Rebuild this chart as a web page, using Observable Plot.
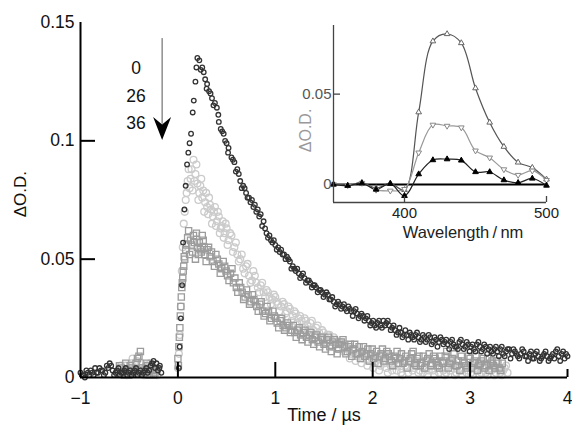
<!DOCTYPE html>
<html><head><meta charset="utf-8">
<script src="https://cdn.jsdelivr.net/npm/d3@7"></script>
<script src="https://cdn.jsdelivr.net/npm/@observablehq/plot@0.6"></script>
<style>
body{margin:0;background:#fff}
#wrap{position:relative;width:572px;height:425px}
#wrap svg{position:absolute;left:0;top:0}
</style>
</head><body><div id="wrap"></div>
<script>
// ---------- main chart data (time in µs, ΔO.D.) ----------
const trace0 = [[-1.00,0.002],[-0.97,0.001],[-0.94,0.003],[-0.91,0.001],[-0.88,0.002],[-0.85,0.004],[-0.82,0.002],[-0.79,0.003],[-0.76,0.001],[-0.73,0.005],[-0.70,0.006],[-0.67,0.003],[-0.64,0.002],[-0.61,0.004],[-0.58,0.002],[-0.55,0.003],[-0.52,0.001],[-0.49,0.003],[-0.46,0.002],[-0.43,0.004],[-0.40,0.002],[-0.37,0.001],[-0.34,0.003],[-0.31,0.002],[-0.28,0.005],[-0.25,0.007],[-0.22,0.006],[-0.19,0.004],[-0.17,0.002],
[0.01,0.004],[0.018,0.013],[0.03,0.025],[0.043,0.039],[0.053,0.057],[0.067,0.071],[0.08,0.081],[0.094,0.090],[0.107,0.095],[0.12,0.099],[0.135,0.103],[0.152,0.112],[0.163,0.117],[0.18,0.125],[0.19,0.131],[0.20,0.135],
[0.22,0.134],[0.25,0.131],[0.28,0.126],[0.30,0.124],[0.32,0.121],[0.35,0.118],[0.38,0.116],[0.40,0.114],[0.42,0.108],[0.44,0.105],[0.47,0.103],[0.50,0.099],[0.52,0.097],[0.55,0.093],[0.58,0.091],[0.61,0.088],[0.64,0.083],[0.67,0.081],[0.70,0.078],[0.73,0.076],[0.76,0.075],[0.79,0.073],[0.82,0.071],[0.85,0.069],[0.88,0.066],[0.91,0.061],[0.94,0.060],[0.97,0.057],[1.00,0.056],[1.03,0.055],[1.06,0.054],[1.09,0.052],[1.12,0.051],[1.15,0.049],[1.18,0.047],[1.21,0.045],[1.24,0.044],[1.27,0.043],[1.30,0.042],[1.33,0.041],[1.36,0.040],[1.39,0.039],[1.42,0.038],[1.45,0.037],[1.48,0.036],[1.51,0.035],[1.54,0.035],[1.57,0.033],[1.60,0.032],[1.63,0.031],[1.66,0.031],[1.69,0.030],[1.72,0.029],[1.75,0.030],[1.78,0.028],[1.81,0.028],[1.84,0.027],[1.87,0.026],[1.90,0.026],[1.93,0.025],[1.96,0.024],[1.99,0.023],[2.02,0.022],[2.05,0.023],[2.08,0.022],[2.11,0.024],[2.14,0.023],[2.17,0.022],[2.20,0.021],[2.23,0.020],[2.26,0.019],[2.29,0.019],[2.32,0.018],[2.35,0.018],[2.38,0.019],[2.41,0.017],[2.44,0.018],[2.47,0.017],[2.50,0.016],[2.53,0.017],[2.56,0.016],[2.59,0.017],[2.62,0.015],[2.65,0.016],[2.68,0.015],[2.71,0.016],[2.74,0.015],[2.77,0.014],[2.80,0.015],[2.83,0.014],[2.86,0.013],[2.89,0.015],[2.92,0.014],[2.95,0.013],[2.98,0.014],[3.01,0.013],[3.04,0.012],[3.07,0.014],[3.10,0.013],[3.13,0.012],[3.16,0.013],[3.19,0.012],[3.22,0.011],[3.25,0.012],[3.28,0.011],[3.31,0.012],[3.34,0.010],[3.37,0.011],[3.40,0.012],[3.43,0.010],[3.46,0.011],[3.49,0.009],[3.52,0.010],[3.55,0.011],[3.58,0.009],[3.61,0.010],[3.64,0.008],[3.67,0.010],[3.70,0.009],[3.73,0.008],[3.76,0.010],[3.79,0.009],[3.82,0.008],[3.85,0.010],[3.88,0.011],[3.91,0.009],[3.94,0.010],[3.97,0.008],[4.00,0.009]];
const trace0b = [[-0.985,0.001],[-0.955,0.000],[-0.925,0.002],[-0.895,0.003],[-0.865,0.001],[-0.835,0.002],[-0.805,0.004],[-0.775,0.003],[-0.745,0.002],[-0.715,0.004],[-0.685,0.005],[-0.655,0.001],[-0.625,0.003],[-0.595,0.001],[-0.565,0.002],[-0.535,0.004],[-0.505,0.002],[-0.475,0.001],[-0.445,0.003],[-0.415,0.001],[-0.385,0.003],[-0.355,0.002],[-0.325,0.004],[-0.295,0.003],[-0.265,0.006],[-0.235,0.004],[-0.205,0.003],[-0.185,0.005],
[0.235,0.130],[0.265,0.129],[0.295,0.122],[0.335,0.120],[0.365,0.115],[0.415,0.111],[0.455,0.104],[0.485,0.100],[0.515,0.095],[0.565,0.092],[0.595,0.087],[0.625,0.086],[0.655,0.080],[0.685,0.080],[0.715,0.076],[0.745,0.074],[0.775,0.072],[0.805,0.070],[0.835,0.068],[0.865,0.064],[0.895,0.063],[0.925,0.059],[0.955,0.058],[0.985,0.058],[1.015,0.054],[1.045,0.053],[1.075,0.052],[1.105,0.050],[1.135,0.050],[1.165,0.046],[1.195,0.046],[1.225,0.046],[1.255,0.042],[1.285,0.044],[1.315,0.040],[1.345,0.041],[1.375,0.038],[1.405,0.039],[1.435,0.036],[1.465,0.037],[1.495,0.034],[1.525,0.036],[1.555,0.033],[1.585,0.034],[1.615,0.030],[1.645,0.032],[1.675,0.029],[1.705,0.031],[1.735,0.028],[1.765,0.029],[1.795,0.026],[1.825,0.029],[1.855,0.025],[1.885,0.027],[1.915,0.024],[1.945,0.026],[1.975,0.022],[2.005,0.024],[2.035,0.021],[2.065,0.024],[2.095,0.021],[2.125,0.022],[2.155,0.024],[2.185,0.020],[2.215,0.022],[2.245,0.018],[2.275,0.021],[2.305,0.017],[2.335,0.020],[2.365,0.016],[2.395,0.018],[2.425,0.016],[2.455,0.019],[2.485,0.015],[2.515,0.018],[2.545,0.015],[2.575,0.018],[2.605,0.014],[2.635,0.017],[2.665,0.013],[2.695,0.017],[2.725,0.014],[2.755,0.016],[2.785,0.012],[2.815,0.016],[2.845,0.013],[2.875,0.012],[2.905,0.016],[2.935,0.012],[2.965,0.015],[2.995,0.011],[3.025,0.014],[3.055,0.011],[3.085,0.015],[3.115,0.011],[3.145,0.014],[3.175,0.010],[3.205,0.013],[3.235,0.010],[3.265,0.013],[3.295,0.009],[3.325,0.013],[3.355,0.009],[3.385,0.012],[3.415,0.008],[3.445,0.012],[3.475,0.010],[3.505,0.008],[3.535,0.012],[3.565,0.009],[3.595,0.007],[3.625,0.011],[3.655,0.008],[3.685,0.011],[3.715,0.007],[3.745,0.009],[3.775,0.011],[3.805,0.007],[3.835,0.009],[3.865,0.008],[3.895,0.012],[3.925,0.007],[3.955,0.011],[3.985,0.010]];

const trace26 = [[-0.60,0.003],[-0.57,0.002],[-0.54,0.005],[-0.51,0.003],[-0.48,0.006],[-0.45,0.002],[-0.42,0.007],[-0.39,0.004],[-0.36,0.003],[-0.33,0.005],[-0.30,0.002],[-0.27,0.004],[-0.24,0.003],[-0.21,0.001],
[0.00,0.004],[0.02,0.018],[0.04,0.045],[0.06,0.065],[0.08,0.075],[0.10,0.083],[0.12,0.080],[0.14,0.088],[0.16,0.092],[0.18,0.086],[0.20,0.082],[0.22,0.078],[0.24,0.084],[0.26,0.079],[0.28,0.074],[0.30,0.072],[0.32,0.076],[0.34,0.071],[0.36,0.068],[0.38,0.072],[0.40,0.066],[0.42,0.068],[0.44,0.063],[0.46,0.066],[0.48,0.061],[0.50,0.063],[0.52,0.058],[0.55,0.060],[0.58,0.055],[0.61,0.052],[0.64,0.050],[0.67,0.046],[0.70,0.047],[0.73,0.043],[0.76,0.041],[0.79,0.043],[0.82,0.038],[0.85,0.039],[0.88,0.036],[0.91,0.037],[0.94,0.034],[0.97,0.033],[1.00,0.034],[1.03,0.031],[1.06,0.030],[1.09,0.031],[1.12,0.028],[1.15,0.029],[1.18,0.026],[1.21,0.027],[1.24,0.025],[1.27,0.024],[1.30,0.025],[1.33,0.022],[1.36,0.023],[1.39,0.020],[1.42,0.021],[1.45,0.019],[1.48,0.020],[1.51,0.017],[1.54,0.018],[1.57,0.016],[1.60,0.017],[1.63,0.014],[1.66,0.015],[1.69,0.013],[1.72,0.014],[1.75,0.012],[1.78,0.010],[1.81,0.012],[1.84,0.009],[1.87,0.010],[1.90,0.008],[1.93,0.009],[1.96,0.007],[1.99,0.008],[2.02,0.006],[2.05,0.008],
[2.08,0.005],[2.11,0.007],[2.14,0.004],[2.17,0.006],[2.20,0.003],[2.23,0.007],[2.26,0.005],[2.29,0.002],[2.32,0.006],[2.35,0.004],[2.38,0.007],[2.41,0.003],[2.44,0.005],[2.47,0.002],[2.50,0.006],[2.53,0.004],[2.56,0.001],[2.59,0.005],[2.62,0.003],[2.65,0.006],[2.68,0.002],[2.71,0.004],[2.74,0.001],[2.77,0.005],[2.80,0.003],[2.83,0.006],[2.86,0.002],[2.89,0.004],[2.92,0.001],[2.95,0.005],[2.98,0.003],[3.01,0.002],[3.04,0.005],[3.07,0.003],[3.10,0.001],[3.13,0.004],[3.16,0.002],[3.19,0.005],[3.22,0.003],[3.25,0.001],[3.28,0.004],[3.31,0.002],[3.34,0.003],[3.37,0.005]];
const trace26b = [[-0.585,0.005],[-0.555,0.003],[-0.525,0.001],[-0.495,0.004],[-0.465,0.008],[-0.435,0.004],[-0.405,0.002],[-0.375,0.006],[-0.345,0.001],[-0.315,0.004],[-0.285,0.006],[-0.255,0.002],[-0.225,0.004],
[0.01,0.010],[0.03,0.030],[0.05,0.055],[0.07,0.070],[0.09,0.078],[0.11,0.088],[0.13,0.084],[0.15,0.079],[0.17,0.083],[0.19,0.090],[0.21,0.075],[0.23,0.081],[0.25,0.076],[0.27,0.070],[0.29,0.078],[0.31,0.069],[0.33,0.073],[0.35,0.065],[0.37,0.070],[0.39,0.064],[0.41,0.070],[0.43,0.061],[0.45,0.064],[0.47,0.059],[0.49,0.065],[0.51,0.056],[0.535,0.061],[0.565,0.053],[0.595,0.057],[0.625,0.049],[0.655,0.052],[0.685,0.044],[0.715,0.048],[0.745,0.040],[0.775,0.045],[0.805,0.040],[0.835,0.036],[0.865,0.040],[0.895,0.034],[0.925,0.036],[0.955,0.031],[0.985,0.035],[1.015,0.032],[1.045,0.028],[1.075,0.032],[1.105,0.027],[1.135,0.030],[1.165,0.024],[1.195,0.028],[1.225,0.023],[1.255,0.026],[1.285,0.021],[1.315,0.024],[1.345,0.020],[1.375,0.024],[1.405,0.018],[1.435,0.022],[1.465,0.017],[1.495,0.019],[1.525,0.015],[1.555,0.018],[1.585,0.013],[1.615,0.016],[1.645,0.012],[1.675,0.015],[1.705,0.011],[1.735,0.012],[1.765,0.008],[1.795,0.011],[1.825,0.007],[1.855,0.010],[1.885,0.006],[1.915,0.009],[1.945,0.005],[1.975,0.009],[2.005,0.004],[2.035,0.007],[2.065,0.003],[2.095,0.008],[2.125,0.006],[2.155,0.002],[2.185,0.005],[2.215,0.008],[2.245,0.003],[2.275,0.006],[2.305,0.001],[2.335,0.005],[2.365,0.002],[2.395,0.006],[2.425,0.004],[2.455,0.007],[2.485,0.003],[2.515,0.002],[2.545,0.006],[2.575,0.003],[2.605,0.005],[2.635,0.001],[2.665,0.004],[2.695,0.006],[2.725,0.003],[2.755,0.002],[2.785,0.006],[2.815,0.004],[2.845,0.001],[2.875,0.005],[2.905,0.003],[2.935,0.006],[2.965,0.002],[2.995,0.004],[3.025,0.001],[3.055,0.004],[3.085,0.006],[3.115,0.002],[3.145,0.005],[3.175,0.001],[3.205,0.004],[3.235,0.006],[3.265,0.002],[3.295,0.004],[3.325,0.001],[3.355,0.004],[3.385,0.002]];

const trace36 = [[-0.62,0.002],[-0.58,0.004],[-0.55,0.001],[-0.52,0.003],[-0.49,0.005],[-0.46,0.002],[-0.43,0.006],[-0.40,0.009],[-0.37,0.004],[-0.34,0.002],[-0.31,0.005],[-0.28,0.003],[-0.25,0.001],[-0.22,0.003],
[0.00,0.008],[0.01,0.013],[0.02,0.021],[0.03,0.030],[0.04,0.038],[0.05,0.042],[0.06,0.047],[0.07,0.050],[0.08,0.054],[0.10,0.059],[0.12,0.052],[0.14,0.056],[0.16,0.060],[0.18,0.050],[0.20,0.055],[0.22,0.057],[0.24,0.053],[0.26,0.058],[0.28,0.052],[0.30,0.054],[0.33,0.051],[0.36,0.049],[0.39,0.052],[0.42,0.048],[0.45,0.046],[0.48,0.047],[0.51,0.043],[0.54,0.044],[0.57,0.040],[0.60,0.038],[0.63,0.040],[0.66,0.036],[0.69,0.034],[0.72,0.035],[0.75,0.032],[0.78,0.033],[0.81,0.030],[0.84,0.031],[0.87,0.028],[0.90,0.027],[0.93,0.028],[0.96,0.025],[0.99,0.026],[1.02,0.023],[1.05,0.024],[1.08,0.022],[1.11,0.021],[1.14,0.022],[1.17,0.020],[1.20,0.019],[1.23,0.020],[1.26,0.018],[1.29,0.019],[1.32,0.017],[1.35,0.018],[1.38,0.016],[1.41,0.017],[1.44,0.015],[1.47,0.017],[1.50,0.014],[1.53,0.016],[1.56,0.013],[1.59,0.015],[1.62,0.014],[1.65,0.012],[1.68,0.015],[1.71,0.013],[1.74,0.011],[1.77,0.014],[1.80,0.012],[1.83,0.010],[1.86,0.013],[1.89,0.011],[1.92,0.009],[1.95,0.012],[1.98,0.010],[2.01,0.008],[2.04,0.011],[2.07,0.009],[2.10,0.012],[2.13,0.008],[2.16,0.010],[2.19,0.007],[2.22,0.009],[2.25,0.011],[2.28,0.008],[2.31,0.006],[2.34,0.009],[2.37,0.007],[2.40,0.010],[2.43,0.006],[2.46,0.008],[2.49,0.005],[2.52,0.009],[2.55,0.007],[2.58,0.010],[2.61,0.006],[2.64,0.008],[2.67,0.005],[2.70,0.009],[2.73,0.007],[2.76,0.011],[2.79,0.006],[2.82,0.008],[2.85,0.005],[2.88,0.007],[2.91,0.009],[2.94,0.006],[2.97,0.004],[3.00,0.008],[3.03,0.006],[3.06,0.009],[3.09,0.005],[3.12,0.007],[3.15,0.004],[3.18,0.008],[3.21,0.006],[3.24,0.005],[3.27,0.007],[3.30,0.004],[3.33,0.006]];
const trace36b = [[-0.60,0.005],[-0.565,0.002],[-0.535,0.006],[-0.505,0.001],[-0.475,0.004],[-0.445,0.003],[-0.415,0.008],[-0.385,0.011],[-0.355,0.003],[-0.325,0.006],[-0.295,0.001],[-0.265,0.004],[-0.235,0.002],
[0.005,0.005],[0.015,0.017],[0.025,0.026],[0.035,0.034],[0.045,0.040],[0.055,0.045],[0.065,0.051],[0.09,0.056],[0.11,0.062],[0.13,0.058],[0.15,0.053],[0.17,0.057],[0.19,0.061],[0.21,0.052],[0.23,0.054],[0.25,0.060],[0.27,0.055],[0.29,0.049],[0.315,0.055],[0.345,0.053],[0.375,0.047],[0.405,0.050],[0.435,0.044],[0.465,0.049],[0.495,0.045],[0.525,0.041],[0.555,0.046],[0.585,0.042],[0.615,0.036],[0.645,0.038],[0.675,0.033],[0.705,0.037],[0.735,0.031],[0.765,0.035],[0.795,0.032],[0.825,0.028],[0.855,0.032],[0.885,0.026],[0.915,0.030],[0.945,0.024],[0.975,0.028],[1.005,0.025],[1.035,0.021],[1.065,0.025],[1.095,0.020],[1.125,0.023],[1.155,0.019],[1.185,0.022],[1.215,0.017],[1.245,0.021],[1.275,0.016],[1.305,0.020],[1.335,0.015],[1.365,0.019],[1.395,0.014],[1.425,0.018],[1.455,0.013],[1.485,0.016],[1.515,0.012],[1.545,0.017],[1.575,0.011],[1.605,0.016],[1.635,0.010],[1.665,0.014],[1.695,0.016],[1.725,0.010],[1.755,0.013],[1.785,0.009],[1.815,0.014],[1.845,0.010],[1.875,0.008],[1.905,0.013],[1.935,0.010],[1.965,0.007],[1.995,0.012],[2.025,0.009],[2.055,0.006],[2.085,0.010],[2.115,0.007],[2.145,0.011],[2.175,0.009],[2.205,0.005],[2.235,0.008],[2.265,0.006],[2.295,0.010],[2.325,0.007],[2.355,0.004],[2.385,0.008],[2.415,0.011],[2.445,0.005],[2.475,0.009],[2.505,0.006],[2.535,0.004],[2.565,0.008],[2.595,0.005],[2.625,0.009],[2.655,0.007],[2.685,0.004],[2.715,0.006],[2.745,0.009],[2.775,0.004],[2.805,0.007],[2.835,0.010],[2.865,0.005],[2.895,0.003],[2.925,0.007],[2.955,0.005],[2.985,0.009],[3.015,0.004],[3.045,0.007],[3.075,0.003],[3.105,0.006],[3.135,0.008],[3.165,0.005],[3.195,0.003],[3.225,0.007],[3.255,0.004],[3.285,0.006],[3.315,0.003]];

const xTicks = [-1, 0, 1, 2, 3, 4];
const xTickLabels = ["\u22121", "0", "1", "2", "3", "4"];
const xTickMarks = [0, 1, 2, 3];
const xEndTick = [4];
const yTicks = [0, 0.05, 0.1, 0.15];
const yTickLabels = ["0", "0.05", "0.1", "0.15"];
const yTickMarks = [0.05, 0.1];
const xLabel = "Time / \u00b5s";
const yLabel = "\u0394O.D.";
const yLabelAt = [0.0775];
const legendLabels = ["0", "26", "36"];
const legendTime = [-0.43, -0.43, -0.43];
const legendOD = [0.1305, 0.1188, 0.1075];
const arrowTime = [-0.162];
const arrowFrom = [0.1432];
const arrowTo = [0.107];
const arrowHeadAt = [0.1052];

// ---------- inset data (wavelength nm, ΔO.D.) ----------
const wavelength = [350,360,370,380,390,400,410,420,430,440,450,460,470,480,490,500];
const spectrumUp   = [0,-0.0006,0.001,-0.002,0.0006,-0.003,0.040,0.0793,0.0833,0.0783,0.0533,0.0343,0.0209,0.0122,0.0093,0.0028];
const spectrumDown = [0,-0.0005,0.0008,-0.003,-0.0035,-0.0026,0.0176,0.033,0.0324,0.0315,0.0187,0.0148,0.0083,0.0052,0.0076,0.0024];
const spectrumFill = [0,-0.0007,0.0007,-0.0028,0.0004,-0.0063,0.0057,0.0135,0.014,0.0133,0.0069,0.0069,0.0024,0.0009,0.0033,-0.0006];
const insetXTicks = [400, 500];
const insetYTicks = [0, 0.05];
const insetYTickLabels = ["0", "0.05"];
const insetYTickMarks = [0.05];
const insetXLabel = "Wavelength\u2009/\u2009nm";
const insetYLabel = "\u0394O.D.";
const insetYLabelAt = [0.0299];

// ---------- build ----------
const toRows = a => a.map(([t, v]) => ({t, v}));
const s0 = toRows(trace0.concat(trace0b));
const s26 = toRows(trace26.concat(trace26b));
const s36 = toRows(trace36.concat(trace36b));
const xFmt = new Map(xTicks.map((d, i) => [d, xTickLabels[i]]));
const yFmt = new Map(yTicks.map((d, i) => [d, yTickLabels[i]]));
const font = "'Liberation Sans', Arial, Helvetica, sans-serif";
const noText = () => "";

const arrowHead = {
  draw(ctx) {
    ctx.moveTo(0, 11.5);
    ctx.lineTo(-9, -11.5);
    ctx.lineTo(0, -4);
    ctx.lineTo(9, -11.5);
    ctx.closePath();
  }
};
const triDown = {
  draw(ctx, size) {
    const s = Math.sqrt(size / (Math.sqrt(3) / 4));
    const h = s * Math.sqrt(3) / 2;
    ctx.moveTo(0, 2 * h / 3);
    ctx.lineTo(-s / 2, -h / 3);
    ctx.lineTo(s / 2, -h / 3);
    ctx.closePath();
  }
};

const main = Plot.plot({
  width: 572, height: 425,
  marginLeft: 80, marginRight: 5, marginTop: 22, marginBottom: 48,
  style: {fontFamily: font, fontSize: "17px", color: "#111", background: "#fff"},
  x: {domain: [-1, 4], axis: null},
  y: {domain: [0, 0.15], axis: null},
  marks: [
    Plot.dot(s26, {x: "t", y: "v", r: 3.4, stroke: "#cbcbcb", strokeWidth: 1.3, fill: "none"}),
    Plot.dot(s36, {x: "t", y: "v", symbol: "square", r: 3.5, stroke: "#9c9c9c", strokeWidth: 1.3, fill: "none"}),
    Plot.dot(s0, {x: "t", y: "v", r: 2.3, stroke: "#333", strokeWidth: 1.3, fill: "none"}),
    // axes: inward ticks are regular axis ticks shifted back across the axis line
    Plot.ruleY([0], {stroke: "#000", strokeWidth: 2}),
    Plot.ruleX([-1], {stroke: "#000", strokeWidth: 2}),
    Plot.axisX(xTickMarks, {anchor: "bottom", tickSize: 15, dy: -15, strokeWidth: 2, stroke: "#000", tickFormat: noText, label: null}),
    Plot.axisX(xEndTick, {anchor: "bottom", tickSize: 8, dy: -8, strokeWidth: 2, stroke: "#000", tickFormat: noText, label: null}),
    Plot.axisY(yTickMarks, {anchor: "left", tickSize: 15, dx: 15, strokeWidth: 2, stroke: "#000", tickFormat: noText, label: null}),
    Plot.axisX(xTicks, {tickSize: 0, tickPadding: 14, tickFormat: d => xFmt.get(d), fontSize: 17.5, label: null}),
    Plot.axisY(yTicks, {tickSize: 0, tickPadding: 6, tickFormat: d => yFmt.get(d), fontSize: 17.5, label: null}),
    Plot.text([xLabel], {frameAnchor: "bottom", textAnchor: "middle", lineAnchor: "middle", dy: 38, fontSize: 18, fill: "#111"}),
    Plot.text([yLabel], {frameAnchor: "left", y: () => yLabelAt[0], textAnchor: "middle", lineAnchor: "middle", dx: -60, rotate: -90, fontSize: 17, fill: "#111"}),
    // legend labels and arrow
    Plot.text(legendLabels, {x: (d, i) => legendTime[i], y: (d, i) => legendOD[i], fontSize: 17.5, fill: "#111"}),
    Plot.ruleX(arrowTime, {x: d => d, y1: () => arrowFrom[0], y2: () => arrowTo[0], stroke: "#555", strokeWidth: 1}),
    Plot.dot(arrowTime, {x: d => d, y: () => arrowHeadAt[0], symbol: arrowHead, fill: "#000", stroke: "none", r: 5})
  ]
});

const insetRows = (arr) => wavelength.map((w, i) => ({w, v: arr[i]}));
const up = insetRows(spectrumUp), down = insetRows(spectrumDown), fil = insetRows(spectrumFill);
const iyFmt = new Map(insetYTicks.map((d, i) => [d, insetYTickLabels[i]]));

const inset = Plot.plot({
  width: 572, height: 425,
  marginLeft: 333, marginRight: 26, marginTop: 25, marginBottom: 223,
  style: {fontFamily: font, fontSize: "15px", color: "#222", background: "transparent"},
  x: {domain: [350, 500], axis: null},
  y: {domain: [-0.01, 0.088], axis: null},
  marks: [
    Plot.ruleY([0], {stroke: "#000", strokeWidth: 2}),
    Plot.line(up, {x: "w", y: "v", stroke: "#555", strokeWidth: 1.2, curve: "catmull-rom"}),
    Plot.line(down, {x: "w", y: "v", stroke: "#999", strokeWidth: 1.2, curve: "catmull-rom"}),
    Plot.line(fil, {x: "w", y: "v", stroke: "#222", strokeWidth: 1.2, curve: "catmull-rom"}),
    Plot.dot(up, {x: "w", y: "v", symbol: "triangle", r: 2.1, stroke: "#666", fill: "#fff", strokeWidth: 1}),
    Plot.dot(down, {x: "w", y: "v", symbol: triDown, r: 2.1, stroke: "#888", fill: "#fff", strokeWidth: 1}),
    Plot.dot(fil, {x: "w", y: "v", symbol: "triangle", r: 2.1, stroke: "#000", fill: "#000", strokeWidth: 1}),
    Plot.ruleX([350], {stroke: "#444", strokeWidth: 1.3}),
    Plot.ruleY([-0.01], {stroke: "#444", strokeWidth: 1.3}),
    Plot.axisX(insetXTicks, {anchor: "bottom", tickSize: 6, dy: -6, strokeWidth: 1.3, stroke: "#444", tickFormat: noText, label: null}),
    Plot.axisY(insetYTickMarks, {anchor: "left", tickSize: 7, dx: 7, strokeWidth: 1.3, stroke: "#444", tickFormat: noText, label: null}),
    Plot.axisX(insetXTicks, {tickSize: 0, tickPadding: 5, fontSize: 15, fill: "#222", label: null}),
    Plot.axisY(insetYTicks, {tickSize: 0, tickPadding: 2, tickFormat: d => iyFmt.get(d), fontSize: 15, fill: "#555", label: null}),
    Plot.text([insetXLabel], {frameAnchor: "bottom", textAnchor: "middle", lineAnchor: "middle", dx: 23, dy: 30, fontSize: 16.5, fill: "#222"}),
    Plot.text([insetYLabel], {frameAnchor: "left", y: () => insetYLabelAt[0], textAnchor: "middle", lineAnchor: "middle", dx: -28, rotate: -90, fontSize: 16, fill: "#999"})
  ]
});

const wrap = document.getElementById("wrap");
wrap.appendChild(main);
wrap.appendChild(inset);
</script>
</body></html>
